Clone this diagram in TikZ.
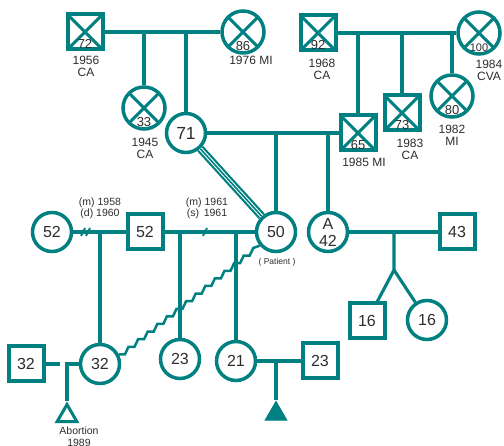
\documentclass[tikz,border=0pt]{standalone}
\usepackage{fontspec}
\setmainfont{Liberation Sans}
\usepackage{tikz}
\usetikzlibrary{positioning,shapes.geometric}
\definecolor{pedteal}{RGB}{0,128,128}
\definecolor{txtgray}{RGB}{45,45,45}

\begin{document}
\begin{tikzpicture}[
    x=1pt,
    y=-1pt,
    link/.style={pedteal, line width=3.1pt},
    male/.style={draw=pedteal, line width=4pt, rectangle, minimum size=35pt, inner sep=0pt,
      text=txtgray, font=\fontsize{16}{17}\selectfont},
    female/.style={draw=pedteal, line width=3.5pt, circle, minimum size=39pt, inner sep=0pt,
      text=txtgray, font=\fontsize{16}{17}\selectfont, align=center},
    dead/.style={text height=34pt, text depth=0pt, font=\fontsize{13}{13}\selectfont,
      path picture={\draw[link] (path picture bounding box.north west) -- (path picture bounding box.south east)
        (path picture bounding box.north east) -- (path picture bounding box.south west);}},
    deadf/.style={dead, minimum size=42pt, text height=37pt},
    lab/.style={text=txtgray, align=center, inner sep=0pt, font=\fontsize{12}{12}\selectfont},
    note/.style={text=txtgray, align=center, inner sep=0pt, font=\fontsize{10.5}{11}\selectfont},
    rel/.style={pedteal, line width=8pt}
  ]
    \useasboundingbox (0,0) rectangle (504,446);
    % grandparents, patient's mother side
    \node[male, dead] (m72) at (85,32) {72};
    \node[female, deadf] (f86) at (243,32) {86};
    \node[female, deadf] (f33) at (144,108) {33};
    \node[female] (f71) at (186,133) {\fontsize{17.5}{18}\selectfont 71};
    \node[lab] (y72) at (86,66) {1956\\CA};
    \node[lab] (y86) at (251,60) {1976 MI};
    \node[lab] (y33) at (145,148) {1945\\CA};
    \draw[link] (m72.east) -- (f86.west);
    \draw[link] (f33.north) -- (f33.north |- m72.east);
    \draw[link] (f71.north) -- (f71.north |- m72.east);
    % grandparents, other side
    \node[male, dead] (m92) at (318,33) {92};
    \node[female, deadf, font=\fontsize{11}{11}\selectfont] (f100) at (479,33) {100};
    \node[male, dead] (m65) at (358,133) {65};
    \node[male, dead] (m73) at (402,113) {73};
    \node[female, deadf] (f80) at (452,96) {80};
    \node[lab] (y92) at (322,69) {1968\\CA};
    \node[lab] (y100) at (489,70) {1984\\CVA};
    \node[lab] (y65) at (364,162) {1985 MI};
    \node[lab] (y73) at (410,149) {1983\\CA};
    \node[lab] (y80) at (452,135) {1982\\MI};
    \draw[link] (m92.east) -- (f100.west);
    \draw[link] (m65.north) -- (m65.north |- m92.east);
    \draw[link] (m73.north) -- (m73.north |- m92.east);
    \draw[link] (f80.north) -- (f80.north |- m92.east);
    \draw[link] (f71.east) -- (m65.west);
    % patient's generation
    \node[female] (f52) at (52,232) {52};
    \node[male] (m52) at (145,232) {52};
    \node[female] (f50) at (276,232) {50};
    \node[female] (fA) at (328,232) {A\\42};
    \node[male] (m43) at (457,232) {43};
    \node[text=txtgray, inner sep=0pt, font=\fontsize{8.5}{9}\selectfont] (pat) at (277,262) {( Patient )};
    \node[note] (mar1) at (100,208) {(m) 1958\\(d) 1960};
    \node[note] (mar2) at (207,208) {(m) 1961\\(s) \,1961};
    \draw[link] (f50.north) -- (f50.north |- f71.east);
    \draw[link] (fA.north) -- (fA.north |- f71.east);
    \draw[link] (f52.east) -- (m52.west);
    \draw[link] (m52.east) -- (f50.west);
    \draw[link] (fA.east) -- (m43.west);
    \draw[pedteal, line width=1.8pt] (81,236) -- (85,228) (86,236) -- (90,228);
    \draw[pedteal, line width=1.8pt] (203,236) -- (207,228);
    \draw[rel] (f71) -- (f50);
    \draw[rel, white, line width=3.6pt] (f71) -- (f50);
    \draw[rel, line width=1.6pt] (f71) -- (f50);
    % children
    \node[male] (m32) at (26,364) {32};
    \node[female] (f32) at (100,364) {32};
    \node[female] (f23) at (180,359) {23};
    \node[female] (f21) at (236,361) {21};
    \node[male] (m23) at (320,361) {23};
    \node[male] (m16) at (367,321) {16};
    \node[female] (f16) at (427,320) {16};
    \node[draw=pedteal, line width=3pt, regular polygon, regular polygon sides=3,
      minimum size=23pt, inner sep=0pt] (ab) at (67,416) {};
    \node[fill=pedteal, draw=pedteal, line width=1pt, regular polygon, regular polygon sides=3,
      minimum size=25pt, inner sep=0pt] (sb) at (276,414) {};
    \node[text=txtgray, align=center, inner sep=0pt, font=\fontsize{10.5}{12}\selectfont] (yab) at (79,437) {Abortion\\1989};
    \coordinate (stub) at (60,364);
    \coordinate (tw) at (394,270);
    \draw[link] (f32.north) -- (f32.north |- f52.east);
    \draw[link] (f23.north) -- (f23.north |- m52.east);
    \draw[link] (f21.north) -- (f21.north |- m52.east);
    \draw[link] (m32.east) -- (stub);
    \draw[link] (f32.west) -| (ab.north);
    \draw[link] (f21.east) -- (m23.west);
    \draw[link] (sb.north) -- (sb.north |- f21.east);
    \draw[link] (tw |- fA.east) -- (tw) -- (m16);
    \draw[link] (tw) -- (f16);
    \draw[link, line width=2.5pt] (f32.27) \foreach \k in {1,...,14} { -- ++(6,0) -- ++(3.6,-7.6) } -- (f50.220);
  \end{tikzpicture}
\end{document}
